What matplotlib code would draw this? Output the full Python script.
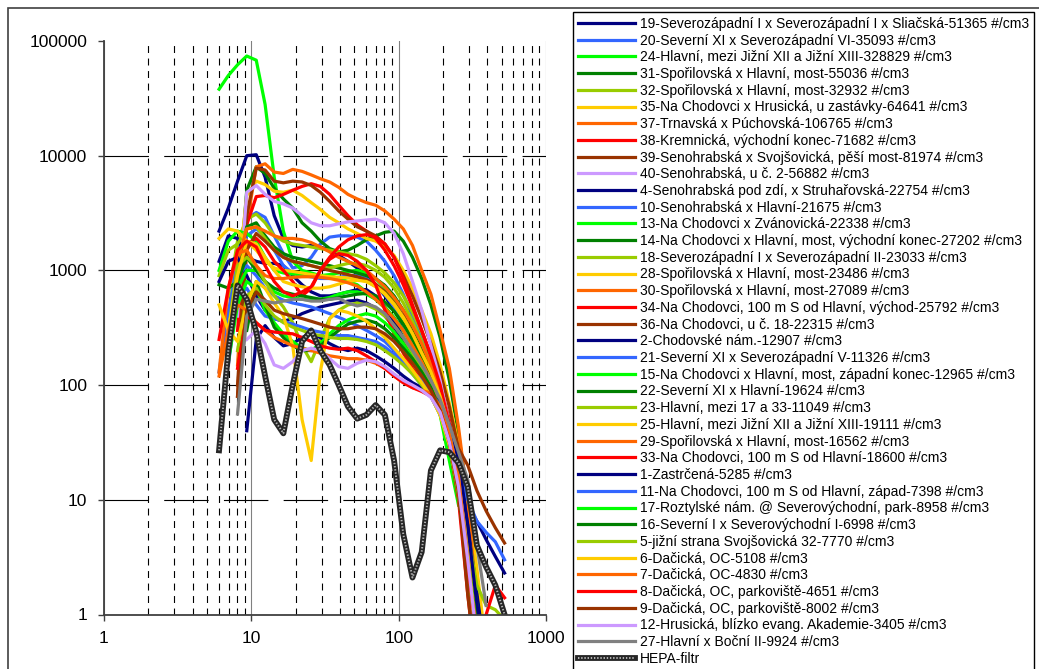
import numpy as np
import matplotlib
matplotlib.use("Agg")
import matplotlib.pyplot as plt
from matplotlib.legend_handler import HandlerTuple
from matplotlib.patches import Rectangle
from matplotlib.ticker import LogLocator

nan = np.nan

# velikostni kanaly (nm)
DIAM = [6.04, 6.98, 8.06, 9.31, 10.8, 12.4, 14.3, 16.5,
        19.1, 22.1, 25.5, 29.4, 34.0, 39.2, 45.3, 52.3,
        60.4, 69.8, 80.6, 93.1, 107.5, 124.1, 143.3, 165.5,
        191.1, 220.7, 254.8, 294.3, 339.8, 392.4, 453.2, 523.3]

s19 = [2200, 3500, 6000, 10000, 10200, 6500, 3000, 1900,
       1650, 1600, 1650, 1600, 1500, 1350, 1200, 1050,
       900, 750, 600, 450, 330, 240, 170, 110,
       60, 30, 14, 9, 6.5, 4.5, 3.2, 2.3]
s20 = [nan, 400, 1500, 2800, 3200, 2900, 2000, 1400,
       1050, 1100, 1300, 1700, 1950, 2000, 2000, 1950,
       1800, 1500, 1200, 900, 620, 400, 250, 150,
       80, 40, 16, 4, 0.8, nan, nan, nan]
s24 = [38000, 50000, 62000, 74000, 68000, 28000, 6500, 2200,
       1200, 1000, 950, 900, 900, 850, 800, 750,
       650, 560, 470, 380, 300, 220, 160, 100,
       55, 22, 9, nan, nan, nan, nan, nan]
s31 = [nan, nan, 500, 5000, 8000, 7000, 5200, 4200,
       3500, 2600, 2200, 1800, 1550, 1450, 1500, 1650,
       1850, 2000, 2150, 2200, 1800, 1300, 850, 500,
       260, 110, 38, 10, 2, 0.4, nan, nan]
s32 = [nan, 600, 1800, 2800, 3100, 2600, 2000, 1800,
       1700, 1650, 1600, 1550, 1500, 1450, 1400, 1350,
       1250, 1100, 950, 780, 600, 430, 290, 180,
       100, 48, 20, 5, 1.2, nan, nan, nan]
s35 = [nan, nan, 800, 4500, 6000, 5600, 4900, 4800,
       5000, 4500, 3900, 3400, 2900, 2600, 2300, 2100,
       1900, 1800, 1600, 1350, 1000, 700, 450, 280,
       150, 70, 30, 10, 2.5, 0.5, nan, nan]
s37 = [nan, nan, 150, 2500, 8000, 8500, 7200, 7000,
       7600, 7300, 6800, 6300, 5900, 5300, 4600, 4200,
       3900, 3700, 3300, 2800, 2300, 1650, 1000, 620,
       300, 140, 43, 10, 1.2, nan, nan, nan]
s38 = [nan, nan, 300, 2500, 4400, 4500, 4300, 4600,
       5000, 5400, 5700, 5400, 4600, 3700, 3000, 2500,
       2200, 1900, 1500, 1100, 750, 480, 300, 180,
       100, 50, 20, 4, 0.8, nan, nan, nan]
s39 = [nan, nan, 80, 3000, 7800, 7500, 6000, 5800,
       6000, 5900, 5500, 4800, 4000, 3300, 2800, 2400,
       2200, 2000, 1700, 1300, 900, 600, 380, 230,
       130, 65, 28, 20, 12, 8, 5.7, 4.2]
s40 = [nan, nan, 400, 4800, 5500, 4600, 4000, 3800,
       3500, 3000, 2600, 2450, 2450, 2550, 2650, 2700,
       2750, 2800, 2600, 2100, 1400, 800, 450, 220,
       110, 45, 14, 3, 0.6, nan, nan, nan]
s4 = [1200, 2000, 1900, 1300, 1200, 1150, 1150, 1100,
      900, 750, 650, 600, 600, 620, 650, 680,
      680, 600, 480, 360, 260, 190, 140, 110,
      80, 45, 18, 4, 0.8, nan, nan, nan]
s10 = [nan, nan, 900, 2000, 2300, 2000, 1500, 1100,
       950, 900, 880, 850, 850, 870, 900, 900,
       850, 750, 620, 480, 340, 230, 150, 100,
       60, 30, 12, 2, 0.3, nan, nan, nan]
s13 = [1000, 1800, 2200, 2100, 1800, 1300, 1000, 950,
       930, 920, 900, 900, 920, 950, 980, 1000,
       950, 850, 700, 540, 380, 260, 170, 110,
       65, 32, 12, 2.5, 0.5, nan, nan, nan]
s14 = [nan, nan, 1000, 2400, 2600, 2000, 1600, 1400,
       1300, 1250, 1200, 1150, 1100, 1050, 1000, 950,
       900, 850, 740, 600, 450, 320, 220, 140,
       80, 40, 16, 4, 1, nan, nan, nan]
s18 = [900, 1500, 1700, 2300, 2400, 1900, 1500, 1300,
       1200, 1150, 1100, 1050, 1050, 1100, 1150, 1150,
       1100, 1000, 870, 700, 520, 360, 240, 150,
       85, 42, 16, 4, 1, nan, nan, nan]
s28 = [1900, 2300, 2200, 1800, 1500, 1200, 1050, 1000,
       980, 950, 920, 900, 880, 870, 860, 840,
       800, 720, 620, 500, 380, 280, 190, 130,
       80, 45, 20, 6, 1.5, nan, nan, nan]
s30 = [nan, 150, 1200, 2300, 2400, 2200, 2000, 1900,
       1900, 1850, 1750, 1600, 1450, 1300, 1200, 1100,
       1000, 850, 720, 580, 450, 330, 230, 150,
       90, 45, 18, 4, 0.8, nan, nan, nan]
s34 = [nan, nan, 600, 1700, 1900, 1600, 1200, 1000,
       800, 600, 700, 1000, 1300, 1600, 1850, 2000,
       2050, 1950, 1700, 1300, 850, 500, 300, 180,
       100, 45, 15, 3, 0.5, nan, nan, nan]
s36 = [nan, nan, 100, 1500, 2100, 1800, 1500, 1300,
       1200, 1150, 1100, 1050, 1000, 960, 920, 880,
       830, 760, 650, 520, 400, 280, 190, 120,
       70, 32, 12, 2, 0.4, nan, nan, nan]
s2 = [800, 1200, 1300, 900, 600, 450, 380, 360,
      380, 420, 450, 480, 500, 520, 540, 550,
      520, 470, 400, 320, 240, 170, 120, 90,
      65, 40, 20, 6, 1.5, 0.4, nan, nan]
s21 = [130, 450, 900, 1100, 900, 700, 600, 550,
       520, 500, 480, 450, 420, 390, 360, 330,
       300, 270, 240, 200, 160, 125, 100, 80,
       55, 35, 18, 10, 6.5, 5.2, 4.3, 3.0]
s15 = [nan, 200, 700, 1000, 1000, 800, 650, 600,
       580, 560, 550, 560, 580, 620, 650, 650,
       620, 560, 480, 390, 300, 220, 160, 110,
       70, 38, 16, 4, 1, nan, nan, nan]
s22 = [750, 700, 800, 1300, 1000, 800, 700, 650,
       620, 600, 580, 560, 560, 580, 600, 620,
       630, 600, 530, 440, 340, 250, 180, 120,
       75, 40, 17, 5, 1.2, nan, nan, nan]
s23 = [nan, 300, 1100, 1300, 1100, 800, 600, 480,
       350, 220, 160, 250, 380, 450, 500, 520,
       500, 460, 400, 330, 260, 190, 140, 100,
       65, 35, 15, 5, 1.8, 1.2, 1.1, 0.9]
s25 = [nan, 300, 900, 1800, 1700, 1300, 1000, 800,
       750, 720, 700, 700, 720, 760, 800, 820,
       800, 730, 630, 510, 390, 280, 190, 130,
       80, 42, 17, 4, 0.8, nan, nan, nan]
s29 = [130, 700, 1400, 1500, 1100, 900, 850, 850,
       870, 880, 880, 870, 850, 820, 780, 730,
       650, 560, 470, 380, 300, 220, 160, 110,
       70, 36, 14, 3, 0.5, nan, nan, nan]
s33 = [250, 700, 1500, 1800, 1600, 1100, 800, 650,
       600, 650, 720, 1000, 1250, 1400, 1350, 1200,
       1000, 750, 450, 280, 190, 140, 110, 85,
       60, 30, 10, 1.5, 0.3, nan, nan, nan]
s1 = [nan, nan, nan, 40, 250, 330, 260, 220,
      230, 260, 280, 260, 230, 210, 200, 210,
      200, 180, 160, 140, 120, 105, 95, 85,
      70, 45, 22, 6, 1.2, 0.3, nan, nan]
s11 = [nan, 150, 600, 700, 500, 400, 380, 360,
       340, 320, 300, 290, 280, 270, 270, 260,
       250, 240, 215, 185, 155, 130, 110, 90,
       65, 38, 16, 3, 0.5, nan, nan, nan]
s17 = [nan, 160, 500, 800, 700, 450, 350, 280,
       240, 210, 200, 230, 280, 330, 370, 400,
       420, 400, 350, 290, 230, 170, 130, 95,
       60, 30, 11, 2.5, 0.6, nan, nan, nan]
s16 = [nan, nan, nan, 300, 800, 500, 320, 260,
       220, 200, 200, 220, 260, 300, 340, 360,
       370, 350, 310, 260, 210, 170, 130, 95,
       60, 32, 13, 3, 0.8, nan, nan, nan]
s5 = [nan, nan, 200, 600, 700, 500, 400, 350,
      320, 300, 280, 270, 260, 255, 255, 250,
      240, 225, 200, 175, 150, 125, 100, 80,
      55, 30, 12, 3, 0.7, nan, nan, nan]
s6 = [500, 300, 240, 500, 800, 700, 520, 400,
      220, 50, 22, 130, 380, 450, 430, 400,
      360, 310, 260, 210, 170, 135, 105, 80,
      55, 30, 12, 3, 0.6, nan, nan, nan]
s7 = [120, 300, 500, 450, 350, 300, 260, 240,
      220, 210, 200, 190, 180, 175, 170, 170,
      165, 155, 140, 120, 105, 95, 90, 85,
      65, 38, 16, 3, 0.5, nan, nan, nan]
s8 = [nan, nan, 140, 400, 350, 300, 290, 285,
      280, 260, 240, 220, 210, 205, 210, 200,
      180, 160, 140, 120, 105, 95, 88, 80,
      60, 32, 12, 2.5, 0.7, 1.0, 1.8, 1.4]
s9 = [nan, nan, 80, 450, 650, 550, 450, 420,
      400, 380, 360, 340, 320, 310, 310, 320,
      320, 310, 280, 240, 195, 155, 120, 90,
      60, 32, 12, 1.5, 0.3, nan, nan, nan]
s12 = [nan, nan, nan, 250, 300, 230, 150, 140,
       160, 200, 210, 200, 170, 145, 140, 155,
       165, 160, 145, 125, 110, 100, 90, 78,
       58, 32, 13, 3, 0.6, nan, nan, nan]
s27 = [nan, nan, 56, 400, 560, 540, 520, 540,
       560, 560, 540, 540, 560, 570, 520, 490,
       510, 480, 420, 330, 260, 200, 150, 110,
       75, 45, 26, 15, 4, 1.2, nan, nan]
hepa = [27, 200, 740, 560, 290, 120, 50, 38,
        100, 240, 300, 200, 150, 100, 65, 51,
        55, 67, 55, 22, 5, 2.1, 3.5, 18,
        27, 26, 21, 13, 4, 2.6, 1.8, 1.0]

SERIES = [s19, s20, s24, s31, s32, s35, s37, s38, s39, s40,
          s4, s10, s13, s14, s18, s28, s30, s34, s36,
          s2, s21, s15, s22, s23, s25, s29, s33,
          s1, s11, s17, s16, s5, s6, s7, s8, s9, s12, s27]

LABELS = [
    "19-Severozápadní I x Severozápadní I x Sliačská-51365 #/cm3",
    "20-Severní XI x Severozápadní VI-35093 #/cm3",
    "24-Hlavní, mezi Jižní XII a Jižní XIII-328829 #/cm3",
    "31-Spořilovská x Hlavní, most-55036 #/cm3",
    "32-Spořilovská x Hlavní, most-32932 #/cm3",
    "35-Na Chodovci x Hrusická, u zastávky-64641 #/cm3",
    "37-Trnavská x Púchovská-106765 #/cm3",
    "38-Kremnická, východní konec-71682 #/cm3",
    "39-Senohrabská x Svojšovická, pěší most-81974 #/cm3",
    "40-Senohrabská, u č. 2-56882 #/cm3",
    "4-Senohrabská pod zdí, x Struhařovská-22754 #/cm3",
    "10-Senohrabská x Hlavní-21675 #/cm3",
    "13-Na Chodovci x Zvánovická-22338 #/cm3",
    "14-Na Chodovci x Hlavní, most, východní konec-27202 #/cm3",
    "18-Severozápadní I x Severozápadní II-23033 #/cm3",
    "28-Spořilovská x Hlavní, most-23486 #/cm3",
    "30-Spořilovská x Hlavní, most-27089 #/cm3",
    "34-Na Chodovci, 100 m S od Hlavní, východ-25792 #/cm3",
    "36-Na Chodovci, u č. 18-22315 #/cm3",
    "2-Chodovské nám.-12907 #/cm3",
    "21-Severní XI x Severozápadní V-11326 #/cm3",
    "15-Na Chodovci x Hlavní, most, západní konec-12965 #/cm3",
    "22-Severní XI x Hlavní-19624 #/cm3",
    "23-Hlavní, mezi 17 a 33-11049 #/cm3",
    "25-Hlavní, mezi Jižní XII a Jižní XIII-19111 #/cm3",
    "29-Spořilovská x Hlavní, most-16562 #/cm3",
    "33-Na Chodovci, 100 m S od Hlavní-18600 #/cm3",
    "1-Zastrčená-5285 #/cm3",
    "11-Na Chodovci, 100 m S od Hlavní, západ-7398 #/cm3",
    "17-Roztylské nám. @ Severovýchodní, park-8958 #/cm3",
    "16-Severní I x Severovýchodní I-6998 #/cm3",
    "5-jižní strana Svojšovická 32-7770 #/cm3",
    "6-Dačická, OC-5108 #/cm3",
    "7-Dačická, OC-4830 #/cm3",
    "8-Dačická, OC, parkoviště-4651 #/cm3",
    "9-Dačická, OC, parkoviště-8002 #/cm3",
    "12-Hrusická, blízko evang. Akademie-3405 #/cm3",
    "27-Hlavní x Boční II-9924 #/cm3",
]
HEPA_LABEL = "HEPA-filtr"

# excelova paleta car
NAVY, BLUE, LIME, DKGREEN = "#000080", "#3366ff", "#00ff00", "#008000"
YGREEN, GOLD, ORANGE, RED = "#99cc00", "#ffcc00", "#ff6600", "#ff0000"
BROWN, LAV, GRAY = "#993300", "#cc99ff", "#808080"
COLORS = [NAVY, BLUE, LIME, DKGREEN, YGREEN, GOLD, ORANGE, RED, BROWN, LAV,
          NAVY, BLUE, LIME, DKGREEN, YGREEN, GOLD, ORANGE, RED, BROWN,
          NAVY, BLUE, LIME, DKGREEN, YGREEN, GOLD, ORANGE, RED,
          NAVY, BLUE, LIME, DKGREEN, YGREEN, GOLD, ORANGE, RED, BROWN, LAV, GRAY]

plt.rcParams['font.family'] = ['Liberation Sans', 'DejaVu Sans']
plt.rcParams['lines.scale_dashes'] = False

W, H = 1039, 669
fig = plt.figure(figsize=(W / 100, H / 100), dpi=100)
ax = fig.add_axes([104 / W, 1 - 614.5 / H, 442 / W, 573.5 / H])

handles = []
for vals, col in zip(SERIES, COLORS):
    ln, = ax.plot(DIAM, vals, color=col, lw=2.3, solid_joinstyle="round")
    handles.append(ln)
h1, = ax.plot(DIAM, hepa, color="#262626", lw=4.2, solid_joinstyle="round")
h2, = ax.plot(DIAM, hepa, color="#b5b5b5", lw=1.4, linestyle=(0, (1.0, 1.3)))
handles.append((h1, h2))

ax.set_xscale("log"); ax.set_yscale("log")
ax.set_xlim(1, 1000); ax.set_ylim(1, 100000)
ax.set_xticks([1, 10, 100, 1000]); ax.set_xticklabels(["1", "10", "100", "1000"])
ax.set_yticks([1, 10, 100, 1000, 10000, 100000])
ax.set_yticklabels(["1", "10", "100", "1000", "10000", "100000"])
ax.xaxis.set_minor_locator(LogLocator(base=10, subs=np.arange(2, 10), numticks=20))
ax.yaxis.set_minor_locator(LogLocator(base=10, subs=[], numticks=20))
ax.tick_params(which="minor", length=0)
ax.tick_params(which="major", length=4, width=1, color="#404040", labelsize=12.5, pad=8)

ax.grid(True, which="minor", axis="x", color="black", lw=0.8, linestyle=(0, (5, 4)))
ax.grid(True, which="major", axis="x", color="#808080", lw=0.8)
ax.grid(True, which="major", axis="y", color="black", lw=0.8, linestyle=(0, (32, 11)))
ax.set_axisbelow(True)
ax.yaxis.get_major_ticks()[-1].gridline.set_visible(False)

for s in ("top", "right"):
    ax.spines[s].set_visible(False)
for s in ("left", "bottom"):
    ax.spines[s].set_color("#404040"); ax.spines[s].set_linewidth(1.3)

leg = fig.legend(handles, LABELS + [HEPA_LABEL], loc="upper left",
                 bbox_to_anchor=(573 / W, 1 - 12 / H), bbox_transform=fig.transFigure,
                 handler_map={tuple: HandlerTuple(ndivide=1, pad=0)},
                 frameon=True, fancybox=False, edgecolor="black", framealpha=1,
                 fontsize=10, handlelength=4.1, handletextpad=0.35,
                 labelspacing=0.195, borderpad=0.35, borderaxespad=0)
leg.get_frame().set_linewidth(1.0)

fig.add_artist(Rectangle((8 / W, -0.05), 1.1, 1 - 8 / H + 0.05, transform=fig.transFigure,
                         fill=False, ec="#404040", lw=1.2))

fig.savefig("out.png", dpi=100)
